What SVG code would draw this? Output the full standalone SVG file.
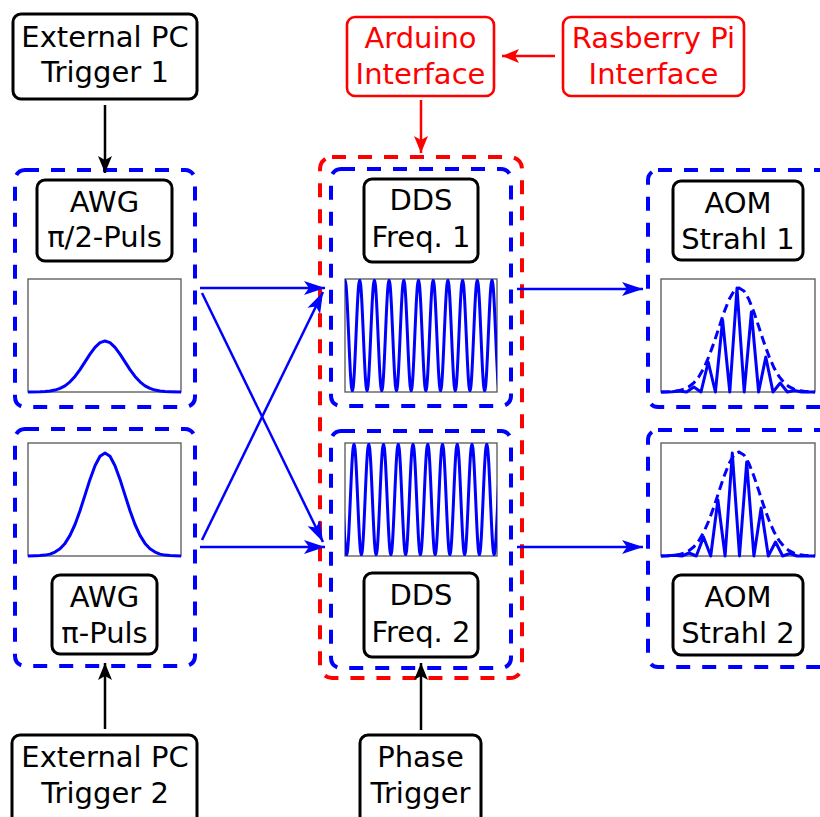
<svg xmlns="http://www.w3.org/2000/svg" width="820" height="817" viewBox="0 0 820 817">
  <style>
    .lbl { fill: #ffffff; stroke: #000000; stroke-width: 3; }
    .lbl-red { fill: #ffffff; stroke: #ff0000; stroke-width: 2.6; }
    .txt { font-family: "DejaVu Sans", "Liberation Sans", sans-serif; font-size: 29px; fill: #000000; text-anchor: middle; }
    .txt-red { fill: #ff0000; }
    .grp-blue { fill: none; stroke: #0000ff; stroke-width: 4; stroke-dasharray: 14 12; }
    .grp-red { fill: none; stroke: #ff0000; stroke-width: 4; stroke-dasharray: 14 12; }
    .frame { fill: #ffffff; stroke: #555555; stroke-width: 1.3; }
    .wave { fill: none; stroke: #0000ff; stroke-width: 3; stroke-linejoin: round; }
    .env { fill: none; stroke: #0000ff; stroke-width: 3; stroke-dasharray: 9 5; }
    .arr-k { stroke: #000000; stroke-width: 2.5; fill: none; marker-end: url(#headK); }
    .arr-b { stroke: #0000ff; stroke-width: 2.5; fill: none; marker-end: url(#headB); }
    .arr-r { stroke: #ff0000; stroke-width: 2.5; fill: none; marker-end: url(#headR); }
  </style>
  <defs>
    <marker id="headK" markerUnits="userSpaceOnUse" markerWidth="18" markerHeight="16" refX="17" refY="8" orient="auto">
      <path d="M0,1 L17,8 L0,15 L4,8 z" fill="#000000"/>
    </marker>
    <marker id="headB" markerUnits="userSpaceOnUse" markerWidth="22" markerHeight="16" refX="21" refY="8" orient="auto">
      <path d="M0,1 L21,8 L0,15 L5,8 z" fill="#0000ff"/>
    </marker>
    <marker id="headR" markerUnits="userSpaceOnUse" markerWidth="18" markerHeight="16" refX="17" refY="8" orient="auto">
      <path d="M0,1 L17,8 L0,15 L4,8 z" fill="#ff0000"/>
    </marker>
    <clipPath id="clipDds1"><rect x="345" y="279" width="152" height="113"/></clipPath>
    <clipPath id="clipDds2"><rect x="345" y="443" width="152" height="113"/></clipPath>
  </defs>

  <!-- dashed module groups -->
  <g id="awg1-group"><rect class="grp-blue" x="15" y="170" width="180" height="237" rx="10"/></g>
  <g id="awg2-group"><rect class="grp-blue" x="15" y="429" width="180" height="237" rx="10"/></g>
  <g id="dds-group"><rect class="grp-red" x="320" y="157" width="202" height="521" rx="12"/></g>
  <g id="dds1-group"><rect class="grp-blue" x="331" y="169" width="180" height="237" rx="10"/></g>
  <g id="dds2-group"><rect class="grp-blue" x="331" y="431" width="180" height="237" rx="10"/></g>
  <g id="aom1-group"><rect class="grp-blue" x="648" y="170" width="185" height="237" rx="10"/></g>
  <g id="aom2-group"><rect class="grp-blue" x="648" y="430" width="185" height="237" rx="10"/></g>

  <!-- connectors -->
  <g id="connectors">
    <line class="arr-k" x1="105" y1="105" x2="105" y2="173"/>
    <line class="arr-k" x1="105" y1="729" x2="105" y2="663"/>
    <line class="arr-k" x1="421" y1="730" x2="421" y2="663"/>
    <line class="arr-r" x1="421" y1="100" x2="421" y2="153"/>
    <line class="arr-r" x1="555" y1="56" x2="502" y2="56"/>
    <line class="arr-b" x1="200" y1="288" x2="325" y2="288"/>
    <line class="arr-b" x1="202" y1="293" x2="323" y2="542"/>
    <line class="arr-b" x1="200" y1="547" x2="325" y2="547"/>
    <line class="arr-b" x1="202" y1="540" x2="323" y2="292"/>
    <line class="arr-b" x1="517" y1="289" x2="643" y2="289"/>
    <line class="arr-b" x1="517" y1="547" x2="643" y2="547"/>
  </g>

  <!-- trigger and interface nodes -->
  <g id="ext-trigger-1">
    <rect class="lbl" x="13" y="14" width="184" height="85" rx="8"/>
    <text class="txt" x="105" y="47">External PC</text>
    <text class="txt" x="105" y="82">Trigger 1</text>
  </g>
  <g id="ext-trigger-2">
    <rect class="lbl" x="12" y="735" width="185" height="95" rx="8"/>
    <text class="txt" x="105" y="767">External PC</text>
    <text class="txt" x="105" y="803">Trigger 2</text>
  </g>
  <g id="phase-trigger">
    <rect class="lbl" x="360" y="735" width="121" height="95" rx="8"/>
    <text class="txt" x="420.5" y="767">Phase</text>
    <text class="txt" x="420.5" y="803">Trigger</text>
  </g>
  <g id="arduino">
    <rect class="lbl-red" x="347" y="17" width="147" height="79" rx="8"/>
    <text class="txt txt-red" x="420.5" y="48">Arduino</text>
    <text class="txt txt-red" x="420.5" y="84">Interface</text>
  </g>
  <g id="raspberry">
    <rect class="lbl-red" x="563" y="17" width="181" height="79" rx="8"/>
    <text class="txt txt-red" x="653.5" y="48">Rasberry Pi</text>
    <text class="txt txt-red" x="653.5" y="84">Interface</text>
  </g>

  <!-- AWG pi/2 pulse -->
  <g id="awg1">
    <rect class="lbl" x="37" y="180" width="135" height="81" rx="8"/>
    <text class="txt" x="104.5" y="212">AWG</text>
    <text class="txt" x="104.5" y="247">π/2-Puls</text>
    <rect class="frame" x="28" y="279" width="153" height="113"/>
    <path class="wave" d="M28,392 L40,391.8 45,391.6 50,391 55,390.1 60,388.4 65,385.8 70,381.8 75,376.4 80,369.6 85,361.9 90,354.1 95,347.3 100,342.6 105,341 110,342.6 115,347.3 120,354.1 125,361.9 130,369.6 135,376.4 140,381.8 145,385.8 150,388.4 155,390.1 160,391 165,391.6 170,391.8 181,392"/>
  </g>

  <!-- AWG pi pulse -->
  <g id="awg2">
    <rect class="lbl" x="52" y="575" width="105" height="79" rx="8"/>
    <text class="txt" x="104.5" y="607">AWG</text>
    <text class="txt" x="104.5" y="643">π-Puls</text>
    <rect class="frame" x="28" y="443" width="153" height="113"/>
    <path class="wave" d="M28,556 L35,555.8 40,555.6 45,555.1 50,554.1 55,552.1 60,548.8 65,543.4 70,535.4 75,524.5 80,510.7 85,495.1 90,479.4 95,465.7 100,456.3 105,453 110,456.3 115,465.7 120,479.4 125,495.1 130,510.7 135,524.5 140,535.4 145,543.4 150,548.8 155,552.1 160,554.1 165,555.1 170,555.6 175,555.8 181,556"/>
  </g>

  <!-- DDS frequency 1 -->
  <g id="dds1">
    <rect class="lbl" x="364" y="179" width="114" height="83" rx="8"/>
    <text class="txt" x="421" y="210">DDS</text>
    <text class="txt" x="421" y="247">Freq. 1</text>
    <rect class="frame" x="345" y="279" width="152" height="113"/>
    <path class="wave" clip-path="url(#clipDds1)" d="M345,280 C347.67,280 349.68,391 352.35,391 S357.03,280 359.7,280 S364.38,391 367.05,391 S371.73,280 374.4,280 S379.08,391 381.75,391 S386.43,280 389.1,280 S393.78,391 396.45,391 S401.13,280 403.8,280 S408.48,391 411.15,391 S415.83,280 418.5,280 S423.18,391 425.85,391 S430.53,280 433.2,280 S437.88,391 440.55,391 S445.23,280 447.9,280 S452.58,391 455.25,391 S459.93,280 462.6,280 S467.28,391 469.95,391 S474.63,280 477.3,280 S481.98,391 484.65,391 S489.33,280 492,280 S496.68,391 499.35,391"/>
  </g>

  <!-- DDS frequency 2 -->
  <g id="dds2">
    <rect class="lbl" x="364" y="573" width="114" height="84" rx="8"/>
    <text class="txt" x="421" y="605">DDS</text>
    <text class="txt" x="421" y="642">Freq. 2</text>
    <rect class="frame" x="345" y="443" width="152" height="113"/>
    <path class="wave" clip-path="url(#clipDds2)" d="M339.25,444 C341.93,444 343.95,555 346.63,555 S351.32,444 354,444 S358.7,555 361.38,555 S366.07,444 368.75,444 S373.45,555 376.13,555 S380.82,444 383.5,444 S388.2,555 390.88,555 S395.57,444 398.25,444 S402.95,555 405.63,555 S410.32,444 413,444 S417.7,555 420.38,555 S425.07,444 427.75,444 S432.45,555 435.13,555 S439.82,444 442.5,444 S447.2,555 449.88,555 S454.57,444 457.25,444 S461.95,555 464.63,555 S469.32,444 472,444 S476.7,555 479.38,555 S484.07,444 486.75,444 S491.45,555 494.13,555 S498.82,444 501.5,444"/>
  </g>

  <!-- AOM beam 1 -->
  <g id="aom1">
    <rect class="lbl" x="673" y="181" width="130" height="79" rx="8"/>
    <text class="txt" x="738" y="213">AOM</text>
    <text class="txt" x="738" y="249">Strahl 1</text>
    <rect class="frame" x="661" y="279" width="154" height="113"/>
    <path class="env" d="M661,392 L669,391.7 674,391.3 679,390.6 684,389.2 689,386.7 694,382.6 699,376.5 704,367.8 709,356.3 714,342.6 719,327.4 724,312.4 729,299.6 734,291 739,288 744,291 749,299.6 754,312.4 759,327.4 764,342.6 769,356.3 774,367.8 779,376.5 784,382.6 789,386.7 794,389.2 799,390.6 804,391.3 809,391.7 815,392"/>
    <path class="wave" d="M661,392 L672,391.7 679.4,391 686.6,392 693.8,387 701,392 708.2,362 715.4,392 722.6,320 729.8,392 737,288 744.2,392 751.4,312 758.6,392 765.8,357 773,392 780.2,383 787.4,392 794.6,390.5 801.8,392 815,392"/>
  </g>

  <!-- AOM beam 2 -->
  <g id="aom2">
    <rect class="lbl" x="673" y="575" width="130" height="80" rx="8"/>
    <text class="txt" x="738" y="607">AOM</text>
    <text class="txt" x="738" y="643">Strahl 2</text>
    <rect class="frame" x="661" y="443" width="154" height="113"/>
    <path class="env" transform="translate(0,164)" d="M661,392 L669,391.7 674,391.3 679,390.6 684,389.2 689,386.7 694,382.6 699,376.5 704,367.8 709,356.3 714,342.6 719,327.4 724,312.4 729,299.6 734,291 739,288 744,291 749,299.6 754,312.4 759,327.4 764,342.6 769,356.3 774,367.8 779,376.5 784,382.6 789,386.7 794,389.2 799,390.6 804,391.3 809,391.7 815,392"/>
    <path class="wave" d="M661,556 L667,555.8 674.7,555.3 681.9,556 689.1,553 696.3,556 703.5,537 710.7,556 717.9,500 725.1,556 732.3,453 739.5,556 746.7,462 753.9,556 761.1,508 768.3,556 775.5,542 782.7,556 789.9,553.5 797.1,556 815,556"/>
  </g>
</svg>
